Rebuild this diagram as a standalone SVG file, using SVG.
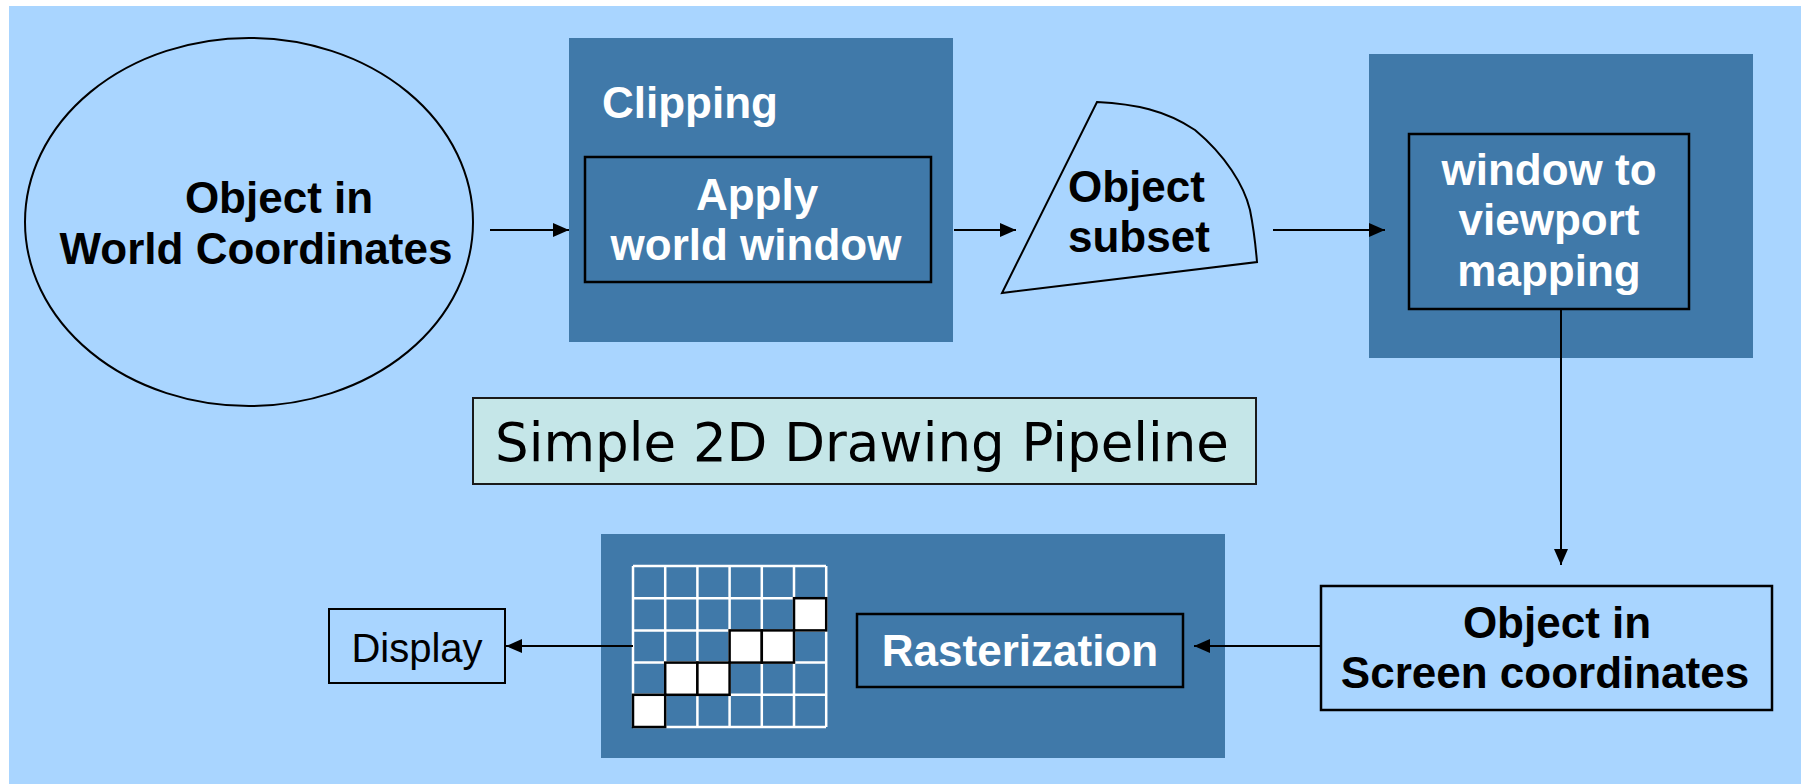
<svg xmlns="http://www.w3.org/2000/svg" width="1801" height="784" viewBox="0 0 1801 784">
<style>
.b{font-family:"Liberation Sans",Arial,sans-serif;font-weight:bold;font-size:44px}
.k{fill:#000}
.w{fill:#fff}
.panel{fill:#4079A9}
.inner{fill:#4079A9;stroke:#000;stroke-width:2.5}
.line{stroke:#000;stroke-width:2;fill:none}
.gl{stroke:#fff;stroke-width:2.5}
.cell{fill:#fff;stroke:#000;stroke-width:2.5}
</style>
<defs>
<marker id="ah" markerUnits="userSpaceOnUse" markerWidth="16" markerHeight="14" refX="16" refY="7" orient="auto">
<path d="M0,0 L16,7 L0,14 Z" fill="#000"/>
</marker>
</defs>
<rect x="0" y="0" width="1801" height="784" fill="#fff"/>
<rect x="9" y="6" width="1792" height="778" fill="#A9D5FF"/>

<g id="world">
<ellipse cx="249" cy="222" rx="224" ry="184" fill="#A9D5FF" stroke="#000" stroke-width="2"/>
<text class="b k" x="279" y="213" text-anchor="middle">Object in</text>
<text class="b k" x="256" y="264" text-anchor="middle">World Coordinates</text>
</g>

<g id="clipping">
<rect class="panel" x="569" y="38" width="384" height="304"/>
<text class="b w" x="602" y="118">Clipping</text>
<rect class="inner" x="585" y="157" width="346" height="125"/>
<text class="b w" x="757" y="210" text-anchor="middle">Apply</text>
<text class="b w" x="756" y="260" text-anchor="middle">world window</text>
</g>

<g id="subset">
<path d="M1097,102 C1135,104 1165,110 1195,130 C1225,155 1244,185 1250,210 C1254,230 1256,250 1257,262 L1002,293 Z" fill="#A9D5FF" stroke="#000" stroke-width="2"/>
<text class="b k" x="1068" y="202">Object</text>
<text class="b k" x="1068" y="252">subset</text>
</g>

<g id="mapping">
<rect class="panel" x="1369" y="54" width="384" height="304"/>
<rect class="inner" x="1409" y="134" width="280" height="175"/>
<text class="b w" x="1549" y="185" text-anchor="middle">window to</text>
<text class="b w" x="1549" y="235" text-anchor="middle">viewport</text>
<text class="b w" x="1549" y="286" text-anchor="middle">mapping</text>
</g>

<g id="title">
<rect x="473" y="398" width="783" height="86" fill="#C5E6E8" stroke="#1a1a1a" stroke-width="2"/>
<text x="862" y="461" text-anchor="middle" font-family="DejaVu Sans,Verdana,sans-serif" font-size="53" fill="#000">Simple 2D Drawing Pipeline</text>
</g>

<g id="screen">
<rect x="1321" y="586" width="451" height="124" fill="#A9D5FF" stroke="#000" stroke-width="2.5"/>
<text class="b k" x="1557" y="638" text-anchor="middle">Object in</text>
<text class="b k" x="1545" y="688" text-anchor="middle">Screen coordinates</text>
</g>

<g id="rasterization">
<rect class="panel" x="601" y="534" width="624" height="224"/>
<g id="grid">
<path class="gl" d="M633,566 H826 M633,598.2 H826 M633,630.4 H826 M633,662.6 H826 M633,694.8 H826 M633,727 H826 M633,566 V727 M665.2,566 V727 M697.4,566 V727 M729.6,566 V727 M761.8,566 V727 M794,566 V727 M826.2,566 V727"/>
<rect class="cell" x="794" y="598.2" width="32.2" height="32.2"/>
<rect class="cell" x="729.6" y="630.4" width="32.2" height="32.2"/>
<rect class="cell" x="761.8" y="630.4" width="32.2" height="32.2"/>
<rect class="cell" x="665.2" y="662.6" width="32.2" height="32.2"/>
<rect class="cell" x="697.4" y="662.6" width="32.2" height="32.2"/>
<rect class="cell" x="633" y="694.8" width="32.2" height="32.2"/>
</g>
<rect class="inner" x="857" y="614" width="326" height="73"/>
<text class="b w" x="1020" y="666" text-anchor="middle">Rasterization</text>
</g>

<g id="display">
<rect x="329" y="609" width="176" height="74" fill="#A9D5FF" stroke="#000" stroke-width="2"/>
<text x="417" y="662" text-anchor="middle" font-family="Liberation Sans,Arial,sans-serif" font-size="40" fill="#000">Display</text>
</g>

<g id="connectors">
<line class="line" x1="490" y1="230" x2="569" y2="230" marker-end="url(#ah)"/>
<line class="line" x1="954" y1="230" x2="1016" y2="230" marker-end="url(#ah)"/>
<line class="line" x1="1273" y1="230" x2="1385" y2="230" marker-end="url(#ah)"/>
<line class="line" x1="1561" y1="309" x2="1561" y2="565" marker-end="url(#ah)"/>
<line class="line" x1="1321" y1="646" x2="1194" y2="646" marker-end="url(#ah)"/>
<line class="line" x1="633" y1="646" x2="506" y2="646" marker-end="url(#ah)"/>
</g>
</svg>
